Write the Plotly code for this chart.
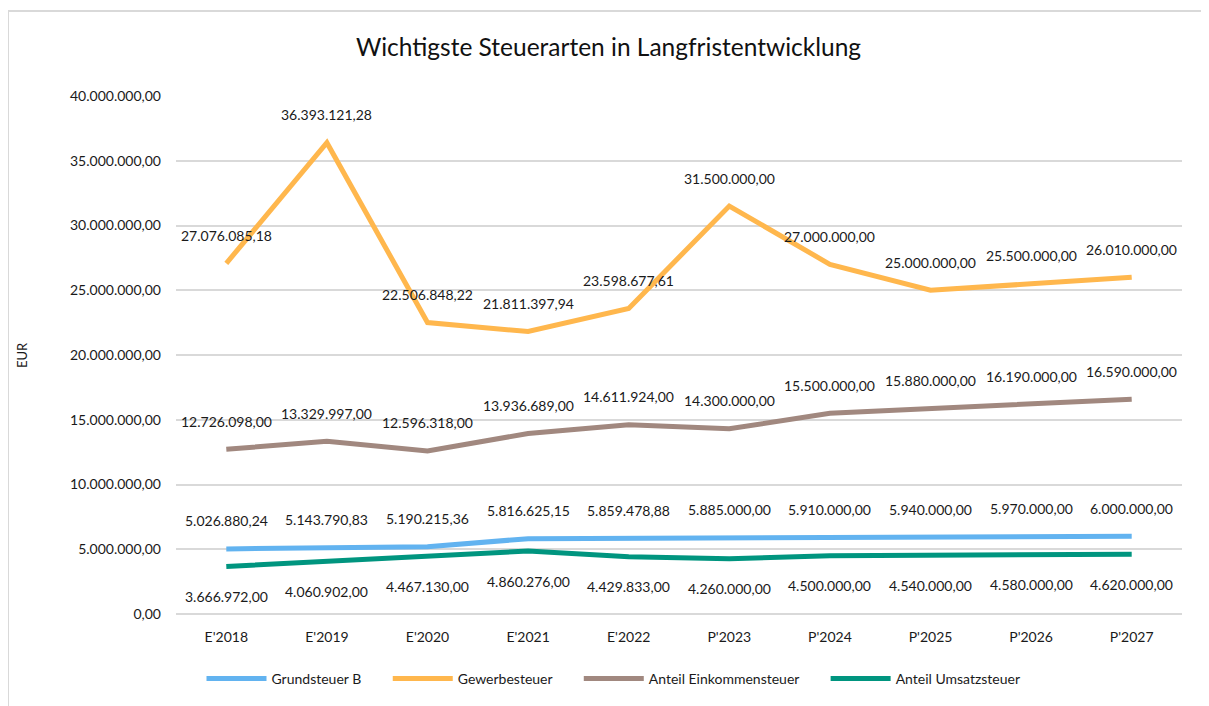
import plotly.graph_objects as go

categories = ["E'2018", "E'2019", "E'2020", "E'2021", "E'2022", "P'2023", "P'2024", "P'2025", "P'2026", "P'2027"]
grundsteuer_b = [5026880.24, 5143790.83, 5190215.36, 5816625.15, 5859478.88, 5885000.00, 5910000.00, 5940000.00, 5970000.00, 6000000.00]
gewerbesteuer = [27076085.18, 36393121.28, 22506848.22, 21811397.94, 23598677.61, 31500000.00, 27000000.00, 25000000.00, 25500000.00, 26010000.00]
einkommensteuer = [12726098.00, 13329997.00, 12596318.00, 13936689.00, 14611924.00, 14300000.00, 15500000.00, 15880000.00, 16190000.00, 16590000.00]
umsatzsteuer = [3666972.00, 4060902.00, 4467130.00, 4860276.00, 4429833.00, 4260000.00, 4500000.00, 4540000.00, 4580000.00, 4620000.00]

series = [
    ("Grundsteuer B", grundsteuer_b, "#62B3F0", 28),
    ("Gewerbesteuer", gewerbesteuer, "#FFB74D", 28),
    ("Anteil Einkommensteuer", einkommensteuer, "#A1887F", 28),
    ("Anteil Umsatzsteuer", umsatzsteuer, "#00957F", -30),
]

FONT = "Lato, Calibri, sans-serif"
TXT = "#1a1a1a"


def fmt(v):
    s = f"{v:,.2f}"
    return s.replace(",", "X").replace(".", ",").replace("X", ".")


fig = go.Figure()
annotations = []
for name, vals, color, yshift in series:
    fig.add_trace(go.Scatter(
        x=categories, y=vals, name=name + "\u00a0" * 6, mode="lines",
        line=dict(color=color, width=5),
    ))
    for c, v in zip(categories, vals):
        annotations.append(dict(
            x=c, y=v, xref="x", yref="y", text=fmt(v), showarrow=False,
            yshift=yshift, font=dict(size=14, color=TXT, family=FONT),
        ))

annotations.append(dict(
    x=(22 - 176) / 1006, y=0.5, xref="paper", yref="paper", text="EUR",
    xanchor="center", yanchor="middle",
    textangle=-90, showarrow=False, font=dict(size=13, color=TXT, family=FONT),
))

fig.update_layout(
    width=1201, height=698,
    margin=dict(l=168, r=27, t=88, b=92, autoexpand=False),
    paper_bgcolor="white", plot_bgcolor="white",
    separators=",.",
    font=dict(family=FONT, size=14, color=TXT),
    title=dict(text="Wichtigste Steuerarten in Langfristentwicklung", x=0.5, xanchor="center",
               y=1 - 39 / 698, yanchor="middle", yref="container",
               font=dict(size=24.5, color="#111111", family=FONT)),
    xaxis=dict(range=[-0.5, 9.5], showgrid=False, showline=False, zeroline=False,
               ticks="", tickfont=dict(size=14), ticklabelstandoff=13, automargin=False),
    yaxis=dict(range=[0, 40000000], dtick=5000000, tickformat=",.2f",
               showgrid=True, gridcolor="#d9d9d9", gridwidth=2, zeroline=True,
               zerolinecolor="#d9d9d9", zerolinewidth=2, showline=False,
               ticks="", tickfont=dict(size=14), ticklabelstandoff=14, automargin=False),
    legend=dict(orientation="h", x=(624 - 176) / 1006, xanchor="center", y=(614 - 679) / 518, yanchor="middle",
                font=dict(size=14), itemwidth=60, tracegroupgap=0),
    showlegend=True,
    annotations=annotations,
    shapes=[dict(type="rect", xref="paper", yref="paper",
                 x0=(8 - 176) / 1006, x1=(1208 - 176) / 1006,
                 y0=(614 - 710) / 518, y1=(614 - 11) / 518,
                 line=dict(color="#d9d9d9", width=2), fillcolor="rgba(0,0,0,0)", layer="below")],
)

fig.write_html("out.html")
